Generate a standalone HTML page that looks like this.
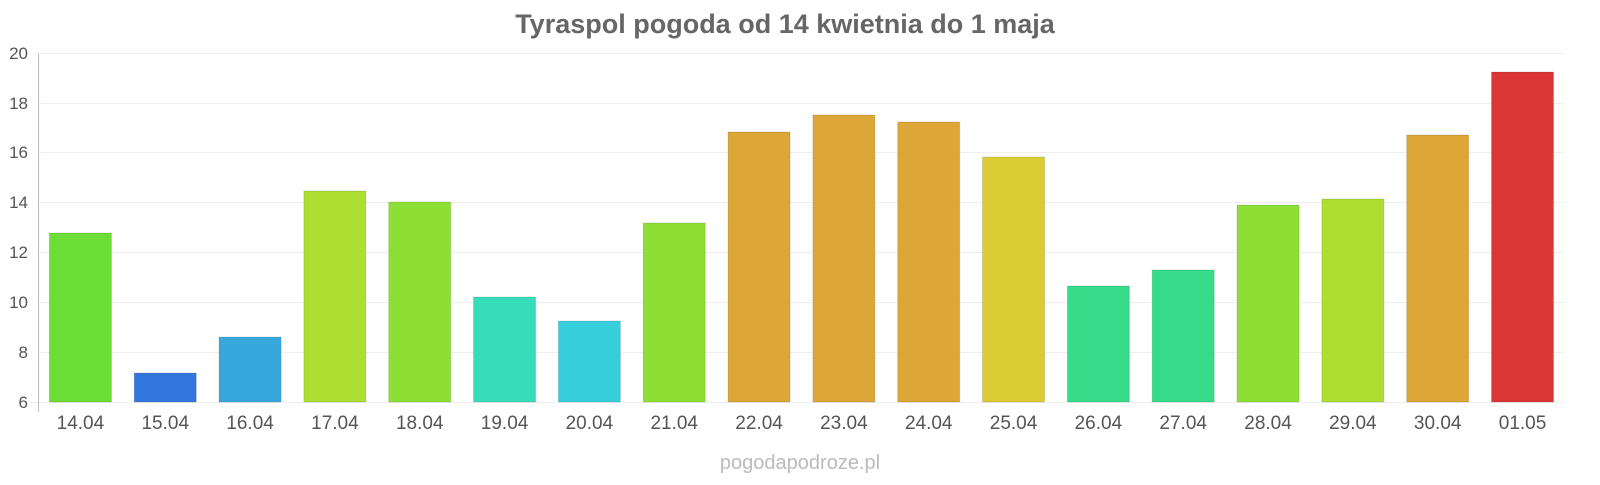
<!DOCTYPE html>
<html><head><meta charset="utf-8"><style>
body{margin:0;background:#fff;}
svg text{font-family:"Liberation Sans",sans-serif;}
</style></head><body>
<svg width="1600" height="480" xmlns="http://www.w3.org/2000/svg">
<text x="785" y="33" text-anchor="middle" font-size="27" font-weight="bold" fill="#666">Tyraspol pogoda od 14 kwietnia do 1 maja</text>
<g stroke="#eee" stroke-width="1">
<line x1="38" x2="1565" y1="53.5" y2="53.5"/>
<line x1="38" x2="1565" y1="103.5" y2="103.5"/>
<line x1="38" x2="1565" y1="152.5" y2="152.5"/>
<line x1="38" x2="1565" y1="202.5" y2="202.5"/>
<line x1="38" x2="1565" y1="252.5" y2="252.5"/>
<line x1="38" x2="1565" y1="302.5" y2="302.5"/>
<line x1="38" x2="1565" y1="352.5" y2="352.5"/>
<line x1="30" x2="1565" y1="402.5" y2="402.5"/>
</g>
<line x1="38.5" x2="38.5" y1="53" y2="412" stroke="#c8b8b8"/>
<g font-size="17" fill="#555" text-anchor="end">
<text x="28" y="59">20</text><text x="28" y="109">18</text><text x="28" y="158">16</text>
<text x="28" y="208">14</text><text x="28" y="258">12</text><text x="28" y="308">10</text>
<text x="28" y="358">8</text><text x="28" y="408">6</text>
</g>
<g id="bars"></g>
<text x="800" y="469" text-anchor="middle" font-size="20" fill="#bbb">pogodapodroze.pl</text>
</svg>
<script>
var d=[["14.04",233,"#6cdc36"],["15.04",373,"#3376dd"],["16.04",337,"#37a8dc"],["17.04",191,"#addf33"],["18.04",202,"#8ddf36"],["19.04",297,"#37dcb8"],["20.04",321,"#37cedc"],["21.04",223,"#8ddf36"],["22.04",132,"#dca737"],["23.04",115,"#dca737"],["24.04",122,"#dca737"],["25.04",157,"#dccc33"],["26.04",286,"#37dc8a"],["27.04",270,"#37dc8a"],["28.04",205,"#8ddf36"],["29.04",199,"#addf33"],["30.04",135,"#dca737"],["01.05",72,"#dc3535"]];
var g=document.getElementById("bars"),s="",w=84.83;
d.forEach(function(b,i){var c=38+w*i+w/2;
s+='<rect x="'+(c-31)+'" y="'+b[1]+'" width="62" height="'+(402-b[1])+'" fill="'+b[2]+'" stroke="rgba(0,0,0,0.12)" stroke-width="1"/>';
s+='<text x="'+c+'" y="429" text-anchor="middle" font-size="19" fill="#555">'+b[0]+'</text>';});
g.innerHTML=s;
</script>
</body></html>
